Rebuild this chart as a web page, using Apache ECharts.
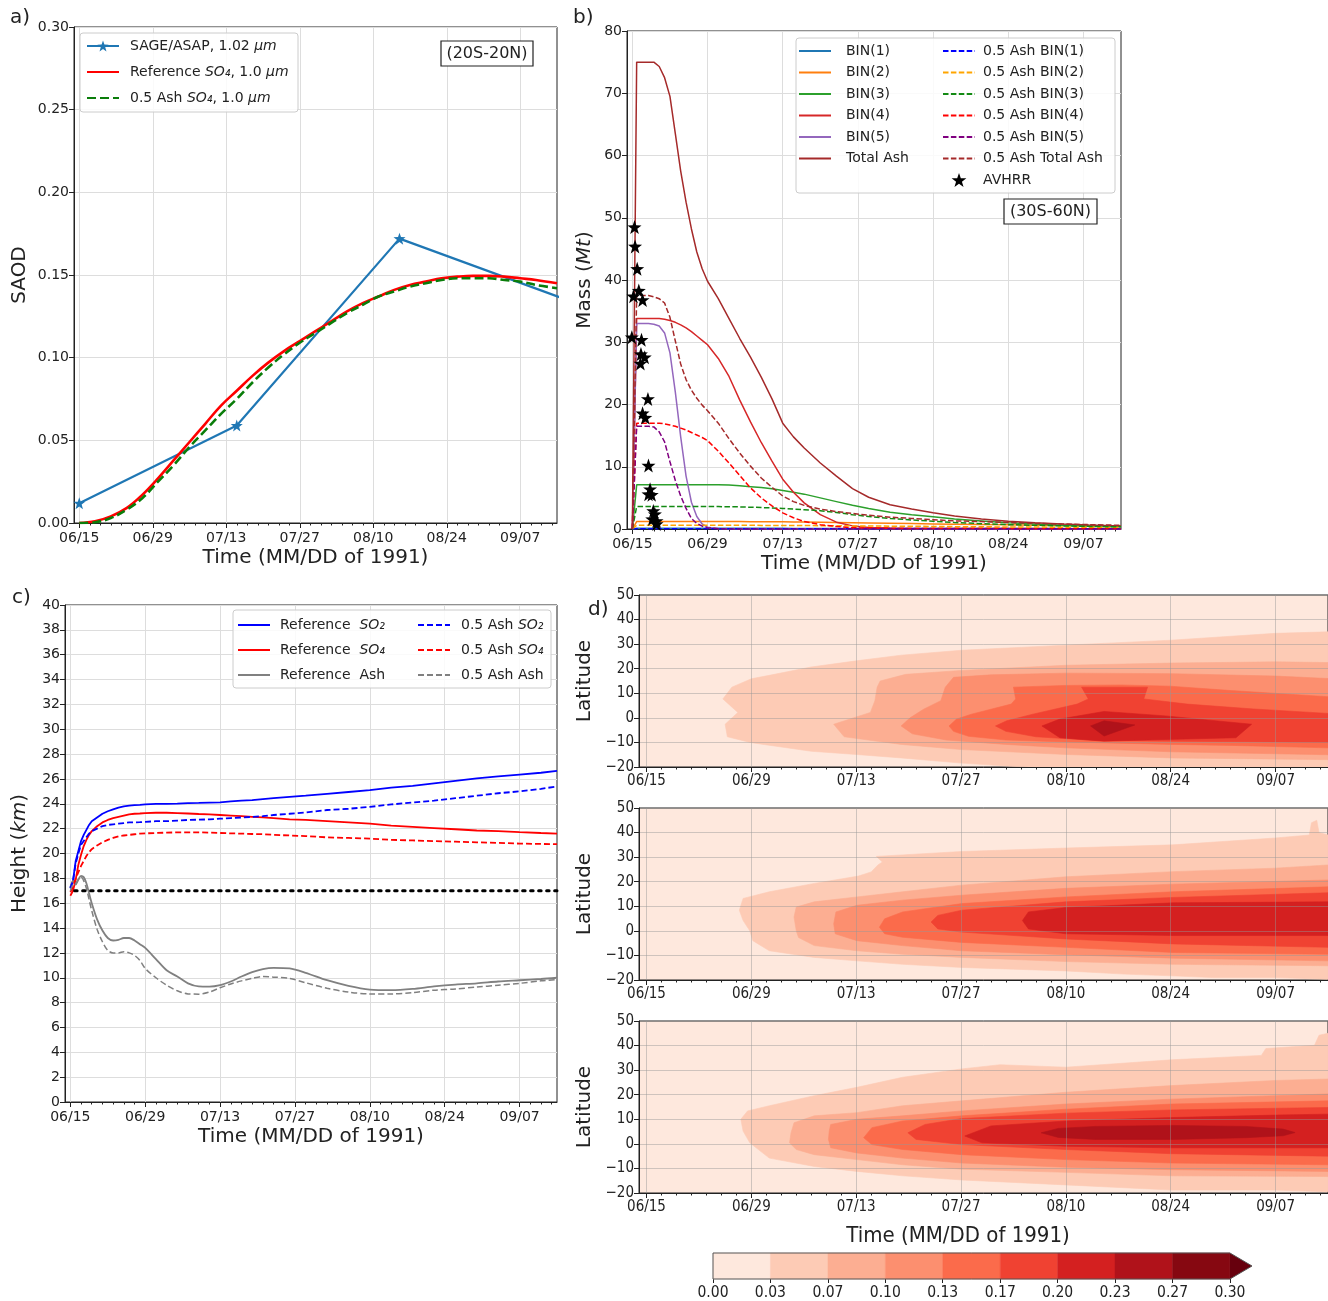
<!DOCTYPE html>
<html>
<head>
<meta charset="utf-8">
<script src="https://cdn.jsdelivr.net/npm/echarts@6/dist/echarts.min.js"></script>
<style>
  html, body { margin: 0; padding: 0; background: #fff; }
  #chart { width: 1328px; height: 1301px; }
</style>
</head>
<body>
<div id="chart"></div>
<script>
// ---------- time axis (days after 1991-06-15) ----------
const majorTickDays = [0, 14, 28, 42, 56, 70, 84];
const minorTickDays = [];
for (let d = 0; d <= 90; d += 2) minorTickDays.push(d);

// ---------- a) SAOD, 20S-20N ----------
const sageDays = [0, 30, 61, 92];
const sageSaod = [0.012, 0.059, 0.172, 0.136];
const saodDays = [0, 3, 6, 9, 12, 15, 18, 21, 24, 27, 30, 33, 36, 39, 42, 45, 48, 51, 54, 57, 60, 63, 66, 69, 72, 75, 78, 81, 84, 87, 91];
const refSo4Saod = [0.000, 0.001, 0.004, 0.009, 0.017, 0.027, 0.038, 0.049, 0.060, 0.071, 0.080, 0.089, 0.097, 0.104, 0.110, 0.116, 0.122, 0.128, 0.133, 0.137, 0.141, 0.144, 0.146, 0.148, 0.149, 0.1495, 0.1495, 0.149, 0.148, 0.147, 0.145];
const ashSo4Saod = [0.000, 0.0005, 0.003, 0.008, 0.015, 0.025, 0.035, 0.046, 0.056, 0.066, 0.075, 0.085, 0.094, 0.102, 0.109, 0.115, 0.121, 0.127, 0.132, 0.137, 0.140, 0.143, 0.145, 0.147, 0.148, 0.148, 0.148, 0.147, 0.146, 0.144, 0.142];

// ---------- b) ash mass, 30S-60N (Mt) ----------
const massDays = [0, 0.8, 2, 3, 4, 5, 6, 7, 8, 9, 10, 11, 12, 13, 14, 16, 18, 20, 22, 24, 26, 28, 30, 32, 35, 38, 41, 44, 48, 52, 56, 60, 65, 70, 75, 80, 85, 91];
const bin1Mass = [0, 0.12, 0.12, 0.12, 0.12, 0.12, 0.12, 0.12, 0.12, 0.12, 0.12, 0.12, 0.12, 0.12, 0.12, 0.12, 0.12, 0.11, 0.11, 0.11, 0.11, 0.11, 0.1, 0.1, 0.1, 0.1, 0.1, 0.09, 0.09, 0.09, 0.08, 0.08, 0.08, 0.07, 0.07, 0.07, 0.06, 0.06];
const bin2Mass = [0, 1.2, 1.2, 1.2, 1.2, 1.2, 1.2, 1.2, 1.2, 1.2, 1.2, 1.2, 1.2, 1.2, 1.2, 1.2, 1.2, 1.19, 1.18, 1.17, 1.16, 1.15, 1.13, 1.11, 1.08, 1.05, 1.01, 0.97, 0.92, 0.87, 0.82, 0.77, 0.72, 0.67, 0.62, 0.57, 0.52, 0.47];
const bin3Mass = [0, 7.1, 7.1, 7.1, 7.1, 7.1, 7.1, 7.1, 7.1, 7.1, 7.1, 7.1, 7.1, 7.1, 7.1, 7.1, 7.05, 6.95, 6.8, 6.65, 6.45, 6.2, 5.9, 5.6, 5.0, 4.4, 3.8, 3.3, 2.7, 2.3, 1.95, 1.6, 1.3, 1.0, 0.8, 0.6, 0.45, 0.35];
const bin4Mass = [0, 33.8, 33.8, 33.8, 33.8, 33.8, 33.7, 33.5, 33.2, 32.8, 32.3, 31.7, 31.0, 30.3, 29.6, 27.4, 24.5, 20.7, 17.2, 13.9, 10.9, 8.0, 5.9, 4.2, 2.3, 1.1, 0.5, 0.25, 0.15, 0.1, 0.1, 0.08, 0.08, 0.07, 0.07, 0.06, 0.06, 0.05];
const bin5Mass = [0, 33, 33, 33, 32.9, 32.6, 31.5, 28.3, 22.0, 14.8, 8.5, 4.3, 2.0, 0.8, 0.3, 0.05, 0, 0, 0, 0, 0, 0, 0, 0, 0, 0, 0, 0, 0, 0, 0, 0, 0, 0, 0, 0, 0, 0];
const totalAshMass = [0, 75, 75, 75, 75, 74.3, 72.5, 69.5, 63.5, 57.5, 52.5, 48.2, 44.5, 41.8, 39.8, 37.0, 33.8, 30.6, 27.6, 24.4, 20.9, 17.0, 14.8, 13.0, 10.6, 8.5, 6.5, 5.1, 3.9, 3.2, 2.6, 2.1, 1.6, 1.25, 1.0, 0.8, 0.65, 0.5];
const halfBin1Mass = [0, 0.06, 0.06, 0.06, 0.06, 0.06, 0.06, 0.06, 0.06, 0.06, 0.06, 0.06, 0.06, 0.06, 0.06, 0.06, 0.06, 0.06, 0.055, 0.055, 0.055, 0.055, 0.05, 0.05, 0.05, 0.05, 0.05, 0.045, 0.045, 0.045, 0.04, 0.04, 0.04, 0.035, 0.035, 0.035, 0.03, 0.03];
const halfBin2Mass = [0, 0.6, 0.6, 0.6, 0.6, 0.6, 0.6, 0.6, 0.6, 0.6, 0.6, 0.6, 0.6, 0.6, 0.6, 0.6, 0.6, 0.6, 0.59, 0.58, 0.58, 0.57, 0.56, 0.55, 0.54, 0.52, 0.5, 0.48, 0.46, 0.44, 0.41, 0.38, 0.35, 0.33, 0.31, 0.29, 0.27, 0.25];
const halfBin3Mass = [0, 3.6, 3.6, 3.6, 3.6, 3.6, 3.6, 3.6, 3.6, 3.6, 3.6, 3.6, 3.6, 3.6, 3.6, 3.6, 3.58, 3.55, 3.5, 3.45, 3.38, 3.3, 3.2, 3.1, 2.95, 2.65, 2.3, 2.0, 1.7, 1.45, 1.25, 1.05, 0.85, 0.7, 0.6, 0.5, 0.42, 0.35];
const halfBin4Mass = [0, 17, 17, 17, 17, 17, 16.9, 16.7, 16.5, 16.2, 15.9, 15.5, 15.1, 14.7, 14.2, 12.5, 10.6, 8.6, 6.6, 5.0, 3.7, 2.6, 1.8, 1.2, 0.7, 0.4, 0.2, 0.15, 0.1, 0.08, 0.08, 0.07, 0.07, 0.06, 0.06, 0.05, 0.05, 0.05];
const halfBin5Mass = [0, 16.5, 16.5, 16.5, 16.4, 15.6, 14.0, 10.8, 7.8, 5.3, 3.3, 1.7, 0.9, 0.45, 0.2, 0.05, 0, 0, 0, 0, 0, 0, 0, 0, 0, 0, 0, 0, 0, 0, 0, 0, 0, 0, 0, 0, 0, 0];
const halfTotalMass = [0, 37.5, 37.5, 37.5, 37.3, 37.0, 36.3, 34.0, 30.2, 26.5, 24.0, 22.3, 21.0, 19.9, 19.0, 17.0, 14.5, 12.2, 10.1, 8.2, 6.7, 5.3, 4.4, 3.8, 3.2, 2.8, 2.5, 2.2, 1.9, 1.7, 1.5, 1.3, 1.2, 1.05, 0.9, 0.8, 0.7, 0.6];
const avhrrDays = [0.4, 0.5, 0.9, 1.2, 0.2, 1.9, -0.1, 1.7, 1.6, 2.3, 1.5, 2.9, 1.9, 2.4, 3.0, 3.3, 3.0, 3.6, 3.9, 4.2, 3.7, 4.5, 4.5];
const avhrrMass = [48.5, 45.4, 41.8, 38.3, 37.4, 36.8, 30.8, 30.4, 28.1, 27.6, 26.6, 20.9, 18.6, 17.9, 10.2, 6.4, 5.6, 5.5, 2.9, 2.4, 1.6, 1.3, 0.8];

// ---------- c) mean height (km) ----------
const heightDays = [0, 0.5, 1, 1.5, 2, 2.5, 3, 3.5, 4, 5, 6, 7, 8, 9, 10, 11, 12, 13, 14, 16, 18, 20, 22, 24, 26, 28, 30, 32, 34, 36, 38, 41, 44, 48, 52, 56, 60, 64, 68, 72, 76, 80, 84, 88, 91];
const refSo2Km = [17.3, 17.8, 19.4, 20.2, 21.0, 21.5, 21.9, 22.3, 22.6, 22.9, 23.2, 23.4, 23.55, 23.7, 23.8, 23.85, 23.9, 23.92, 23.95, 24.0, 24.0, 24.02, 24.05, 24.07, 24.1, 24.12, 24.2, 24.25, 24.3, 24.38, 24.45, 24.55, 24.65, 24.8, 24.95, 25.1, 25.3, 25.45, 25.65, 25.85, 26.05, 26.2, 26.35, 26.5, 26.65];
const halfSo2Km = [17.2, 17.8, 19.2, 20.0, 20.7, 21.0, 21.3, 21.6, 21.8, 22.0, 22.2, 22.3, 22.35, 22.4, 22.45, 22.5, 22.5, 22.52, 22.55, 22.6, 22.6, 22.65, 22.7, 22.72, 22.75, 22.8, 22.85, 22.9, 22.95, 23.0, 23.1, 23.2, 23.3, 23.5, 23.6, 23.75, 23.95, 24.1, 24.25, 24.45, 24.65, 24.85, 25.0, 25.2, 25.4];
const refSo4Km = [16.6, 17.0, 17.9, 19.1, 19.9, 20.6, 21.1, 21.5, 21.8, 22.2, 22.5, 22.7, 22.85, 22.95, 23.05, 23.15, 23.2, 23.22, 23.25, 23.28, 23.28, 23.25, 23.22, 23.18, 23.15, 23.1, 23.05, 23.0, 22.95, 22.9, 22.85, 22.75, 22.7, 22.6, 22.5, 22.4, 22.25, 22.15, 22.05, 21.95, 21.85, 21.8, 21.72, 21.65, 21.6];
const halfSo4Km = [16.9, 17.3, 18.0, 18.5, 19.0, 19.4, 19.8, 20.1, 20.35, 20.65, 20.9, 21.1, 21.25, 21.38, 21.45, 21.5, 21.55, 21.6, 21.62, 21.65, 21.68, 21.7, 21.7, 21.7, 21.68, 21.65, 21.62, 21.6, 21.57, 21.55, 21.5, 21.45, 21.4, 21.3, 21.25, 21.2, 21.1, 21.05, 21.0, 20.95, 20.9, 20.85, 20.8, 20.77, 20.75];
const refAshKm = [17.2, 17.8, 17.5, 17.9, 18.2, 18.1, 17.6, 16.8, 16.0, 14.7, 13.8, 13.2, 13.0, 13.05, 13.2, 13.2, 13.0, 12.7, 12.4, 11.5, 10.6, 10.1, 9.55, 9.3, 9.28, 9.4, 9.7, 10.1, 10.45, 10.7, 10.8, 10.75, 10.4, 9.8, 9.35, 9.05, 9.0, 9.1, 9.3, 9.45, 9.55, 9.7, 9.8, 9.9, 10.0];
const halfAshKm = [17.0, 17.5, 17.6, 17.9, 18.1, 17.8, 17.2, 16.3, 15.4, 13.9, 12.9, 12.2, 12.0, 12.0, 12.1, 12.0, 11.8, 11.4, 10.75, 10.0, 9.4, 8.95, 8.7, 8.68, 8.85, 9.2, 9.5, 9.75, 9.95, 10.1, 10.05, 9.95, 9.6, 9.15, 8.85, 8.7, 8.7, 8.8, 9.0, 9.1, 9.25, 9.4, 9.55, 9.75, 9.85];
const tropopauseDays = [0.8, 91];
const tropopauseKm = [17, 17];

// ---------- d) zonal SAOD contours: [day, latitude] outlines per level ----------
const saodLevels = [0, 0.0333, 0.0667, 0.1, 0.1333, 0.1667, 0.2, 0.2333, 0.2667, 0.3];
const levelColors = ['#fee8dd', '#fdcbb5', '#fcae92', '#fc8f6f', '#fb6b4b', '#f04232', '#d42020', '#b0121a', '#860811', '#67000d'];

const contoursTop = [
  { bin: 1, pts: [[91,35],[84,34.4],[70,31.6],[56,29.6],[42,27.5],[34,25.5],[28,23.2],[22,20.7],[16.4,17.3],[14,15.9],[11.4,12.5],[10.2,7.7],[12.2,2.2],[10.5,-2.6],[10.8,-7.7],[14,-10.1],[22,-13.6],[28,-14.9],[34,-16.3],[42,-18.4],[48.7,-19.7],[51,-20],[91,-20]] },
  { bin: 2, pts: [[91,22.5],[84,22.8],[70,22.3],[56,21.4],[42,19.3],[34.6,17.7],[31.2,15],[30.8,12.5],[30.5,7],[29.9,2.2],[25,-2.6],[26.4,-7.7],[34,-10.8],[42,-12.9],[56,-14.9],[70,-16.3],[91,-17]] },
  { bin: 3, pts: [[91,16],[84,17],[70,18],[56,18.2],[46,17.5],[41,16.5],[39.9,12.5],[39.3,7],[37,3.5],[35.2,0],[34,-3.3],[35.5,-6.5],[40,-9],[48,-10.8],[56,-12.2],[70,-13.8],[91,-15]] },
  { bin: 4, pts: [[91,8.6],[78.1,11.1],[69.9,12.9],[63.4,13.4],[55.9,13.2],[49,12.5],[49.3,7.7],[48.7,5.6],[43.4,1.5],[41.4,-0.5],[40.4,-3.3],[41,-5.5],[43,-7.5],[48,-9],[56,-9.8],[70,-10.8],[78,-11.2],[91,-12.2]] },
  { bin: 5, pts: [[91,1.8],[81.1,3.6],[72.2,5.6],[66.4,7.7],[66.9,12.5],[58.1,12.5],[59,7.7],[57.5,5.6],[51.6,1.5],[48.1,-1.2],[46.6,-3.3],[48,-5.5],[52,-7.7],[60,-9.2],[70,-9.5],[80,-9.7],[91,-10]] },
  { bin: 6, pts: [[52.8,-3.3],[55.2,-0.5],[61.1,2.6],[69.3,0.8],[80.8,-2.6],[78.7,-8.1],[69.3,-8.8],[61.1,-9.5],[55.2,-8.1]] },
  { bin: 7, pts: [[59.3,-3.3],[61.1,-1.2],[65.2,-2.9],[61.1,-7.4]] }
];
const contoursMid = [
  { bin: 1, pts: [[91,39],[89.8,40],[89.5,45],[88.8,44],[88.5,39],[84,37.8],[70.3,35],[56,33.7],[42.1,32.3],[30.7,30.3],[31.5,28],[30.9,26.8],[30,24],[28.3,22.3],[22.4,19.3],[16.4,15.9],[12.9,13.2],[12.4,8.4],[12.9,4.2],[13.8,0],[14.2,-4],[16.4,-8.1],[22.4,-10.8],[28.1,-12.2],[34.2,-13.6],[42.1,-14.9],[49,-15.6],[56,-16.3],[63.8,-17.6],[70.1,-18.3],[75.6,-19],[84,-19],[91,-19.7]] },
  { bin: 2, pts: [[91,26.8],[83.9,25.5],[70.3,24.1],[56,22],[42.1,18.6],[34.2,15.9],[28.1,13.8],[22.4,11.8],[20,9.7],[19.7,5.6],[20,0],[20.3,-2.7],[22.4,-6],[28.1,-8.1],[34.2,-9.5],[42.1,-10.8],[56,-12.5],[70.3,-13.6],[91,-14.2]] },
  { bin: 3, pts: [[91,20.7],[70.3,19],[56,17.3],[42.1,14.5],[34.2,12.5],[28.1,10.4],[25.3,7.7],[25,2.9],[25.2,-1.2],[28.1,-4],[34.2,-6],[42.1,-8.1],[56,-9.7],[70.3,-11.1],[91,-12.2]] },
  { bin: 4, pts: [[91,17.9],[70.3,15.9],[56,13.8],[42.1,11.1],[34.2,7.7],[31.8,4.9],[31.1,1.5],[31.8,-1.2],[34.2,-2.6],[42.1,-4.7],[56,-6.7],[70.3,-8.8],[91,-9.5]] },
  { bin: 5, pts: [[91,15.5],[70.3,13.6],[56,11.8],[42.1,8.4],[38.9,6.3],[38,3.6],[38.9,0.8],[42.1,-0.5],[56,-3.3],[70.3,-5.3],[91,-6.7]] },
  { bin: 6, pts: [[91,11.8],[70.3,11.4],[56,9.5],[51,7.7],[50.2,4.2],[51,0.8],[56,-1.2],[70.3,-1.9],[91,-1.9]] }
];
const contoursBot = [
  { bin: 1, pts: [[91,45],[89.8,44.2],[89.2,40.1],[82.7,38.8],[82.1,36],[70.1,34.2],[56,31.2],[47.2,32.2],[42.1,30.5],[34.2,27.1],[28.1,23],[22.4,19.6],[16.4,15.5],[13.5,13.4],[12.6,10],[12.9,5.2],[13.8,0.4],[16.4,-5.8],[22.4,-9.2],[28.1,-11.2],[34.2,-13],[42.1,-14.7],[56,-16.7],[70.1,-18.8],[84,-18.8],[91,-19.5]] },
  { bin: 2, pts: [[91,26.4],[84,25.8],[70.1,23.7],[56,21],[42.1,17.5],[34.2,15.5],[28.1,12.7],[22.4,11.4],[19.7,8.6],[19.3,4.5],[19.1,0.4],[20,-2.3],[22.4,-4.4],[28.1,-6.4],[34.2,-8.5],[42.1,-10.3],[56,-11.6],[70.1,-13],[91,-13.3]] },
  { bin: 3, pts: [[91,20.3],[70.1,18.2],[56,16.2],[42.1,13.4],[34.2,11.4],[28.1,10],[24.6,7.9],[24.4,5.2],[24.3,1.8],[24.6,-1.6],[28.1,-3.7],[34.2,-5.8],[42.1,-7.8],[56,-9.5],[70.1,-10.5],[91,-11.2]] },
  { bin: 4, pts: [[91,17.5],[70.1,16.2],[56,14.1],[42.1,11.4],[34.2,9.3],[30.1,6.6],[29,2.5],[30.1,-0.3],[34.2,-2.3],[42.1,-4.4],[56,-6.4],[70.1,-7.8],[91,-8.5]] },
  { bin: 5, pts: [[91,14.8],[70.1,13.8],[56,12.5],[42.1,10.3],[37.2,7.9],[34.9,4.5],[36,1.8],[42.1,-0.3],[56,-2.3],[70.1,-4],[91,-5]] },
  { bin: 6, pts: [[91,12.1],[84,11.7],[70.1,10.7],[56,9.3],[46,7.3],[42.5,3.2],[44.8,0.4],[56,-1],[70.1,-1.6],[91,-1.6]] },
  { bin: 7, pts: [[52.7,4.5],[55,6.3],[60,7.1],[70.1,7.5],[80,7.1],[85,6],[86.6,4.6],[85,3.3],[80,2.5],[70.1,1.8],[60,1.8],[55,2.6]] }
];
const colorbarTip = 0.3128;

// ---------- helpers ----------
const FONT = '"DejaVu Sans", sans-serif';
const NARROW = '"DejaVu Sans Condensed", "Liberation Sans Narrow", "DejaVu Sans", sans-serif';
const INK = '#222';
const STAR = 'path://M0,-10 L2.35,-3.24 L9.51,-3.09 L3.8,1.24 L5.88,8.09 L0,4 L-5.88,8.09 L-3.8,1.24 L-9.51,-3.09 L-2.35,-3.24 Z';
const START = Date.UTC(1991, 5, 15);
const pad2 = n => String(n).padStart(2, '0');
function fmtDay(v) {
  const d = new Date(START + Math.round(v) * 86400000);
  return pad2(d.getUTCMonth() + 1) + '/' + pad2(d.getUTCDate());
}
const zip = (xs, ys) => xs.map((x, i) => [x, ys[i]]);
const fmtLat = v => (v < 0 ? '\u2212' + Math.abs(v) : String(v));

function timeAxes(gridIndex, o) {
  return [{
    type: 'value', gridIndex, min: -1, max: 91, z: o.z || 0,
    name: o.name || '', nameLocation: 'middle', nameGap: o.nameGap || 0,
    nameTextStyle: { fontFamily: FONT, fontSize: 20, color: INK },
    axisLine: { show: true, onZero: false, lineStyle: { color: INK, width: 1 } },
    axisTick: { show: true, customValues: majorTickDays, length: 5, lineStyle: { color: INK } },
    axisLabel: { customValues: majorTickDays, formatter: fmtDay, fontFamily: o.font, fontSize: o.size, color: INK, margin: o.margin || 8 },
    splitLine: { show: true, lineStyle: { color: o.gridColor || '#dddddd', width: 1 } }
  }, {
    type: 'value', gridIndex, min: -1, max: 91, position: 'bottom', z: o.z || 0,
    axisLine: { show: false, onZero: false }, axisLabel: { show: false }, splitLine: { show: false },
    axisTick: { show: true, customValues: minorTickDays, length: 2.5, lineStyle: { color: INK } }
  }];
}
function valueAxis(gridIndex, o) {
  return {
    type: 'value', gridIndex, min: o.min, max: o.max, interval: o.interval, z: o.z || 0,
    name: o.name || '', nameLocation: 'middle', nameGap: o.nameGap || 0,
    nameTextStyle: { fontFamily: FONT, fontSize: 20, color: INK, rich: { it: { fontFamily: FONT, fontSize: 20, fontStyle: 'italic', color: INK } } },
    axisLine: { show: true, onZero: false, lineStyle: { color: INK } },
    axisTick: { show: true, length: 5, lineStyle: { color: INK } },
    axisLabel: { formatter: o.fmt, fontFamily: o.font, fontSize: o.size, color: INK, margin: 5 },
    splitLine: { show: true, lineStyle: { color: o.gridColor || '#dddddd', width: 1 } }
  };
}

// legend label markup (italic units / chemical species)
const legendMarkup = {
  'SAGE/ASAP, 1.02 μm': '{n|SAGE/ASAP, 1.02 }{i|μm}',
  'Reference SO₄, 1.0 μm': '{n|Reference }{i|SO₄}{n|, 1.0 }{i|μm}',
  '0.5 Ash SO₄, 1.0 μm': '{n|0.5 Ash }{i|SO₄}{n|, 1.0 }{i|μm}',
  'Reference  SO₂': '{n|Reference  }{i|SO₂}',
  'Reference  SO₄': '{n|Reference  }{i|SO₄}',
  'Reference  Ash': '{n|Reference  Ash}',
  '0.5 Ash SO₂': '{n|0.5 Ash }{i|SO₂}',
  '0.5 Ash SO₄': '{n|0.5 Ash }{i|SO₄}',
  '0.5 Ash Ash': '{n|0.5 Ash Ash}'
};
// entries drawn with a marker keep it; plain lines show only the line sample
const markerEntries = ['SAGE/ASAP, 1.02 μm', 'AVHRR'];
function legend(o) {
  return {
    left: o.left, top: o.top, orient: 'vertical', padding: 0, z: 20,
    itemWidth: 32, itemHeight: 14, itemGap: o.gap, selectedMode: false,
    data: o.data.map(name => markerEntries.includes(name) ? { name } : { name, itemStyle: { opacity: 0 } }),
    formatter: name => legendMarkup[name] || ('{n|' + name + '}'),
    textStyle: {
      padding: [0, 0, 0, o.textPad], color: INK,
      rich: {
        n: { fontFamily: FONT, fontSize: 14, color: INK },
        i: { fontFamily: FONT, fontSize: 14, fontStyle: 'italic', color: INK }
      }
    }
  };
}
function line(name, xi, yi, xs, ys, color, width, dash, extra) {
  return Object.assign({
    name, type: 'line', xAxisIndex: xi, yAxisIndex: yi, data: zip(xs, ys),
    symbol: 'none', clip: true, z: 3,
    lineStyle: { color, width, type: dash || 'solid' },
    itemStyle: { color }
  }, extra || {});
}
function contourSeries(rings, xi, yi) {
  return {
    type: 'custom', xAxisIndex: xi, yAxisIndex: yi, clip: true, silent: true, z: 2,
    data: rings.map((r, i) => [r.pts[0][0], r.pts[0][1], i]),
    renderItem(params, api) {
      const ring = rings[params.dataIndex];
      return {
        type: 'polygon',
        shape: { points: ring.pts.map(p => api.coord(p)) },
        style: { fill: levelColors[ring.bin], stroke: levelColors[ring.bin], lineWidth: 0.6 }
      };
    }
  };
}

// ---------- layout ----------
const grids = [
  { left: 74, top: 27, width: 483, height: 496 },     // a
  { left: 627, top: 31, width: 494, height: 498 },    // b
  { left: 65, top: 605, width: 492, height: 497 },    // c
  { left: 639, top: 595, width: 689, height: 172 },   // d top
  { left: 639, top: 808, width: 689, height: 172 },   // d middle
  { left: 639, top: 1021, width: 689, height: 172 },  // d bottom
  { left: 713, top: 1253, width: 539, height: 26 }    // colour bar
].map((g, i) => Object.assign({
  show: true, borderColor: INK, borderWidth: 1,
  backgroundColor: (i >= 3 && i <= 5) ? levelColors[0] : 'transparent'
}, g));
grids[6].show = false;

const xAxes = [].concat(
  timeAxes(0, { font: FONT, size: 14, name: 'Time (MM/DD of 1991)', nameGap: 25 }),
  timeAxes(1, { font: FONT, size: 14, name: 'Time (MM/DD of 1991)', nameGap: 25 }),
  timeAxes(2, { font: FONT, size: 14, name: 'Time (MM/DD of 1991)', nameGap: 25 }),
  timeAxes(3, { font: NARROW, size: 15, z: 5, margin: 7, gridColor: 'rgba(150,150,150,0.45)' }),
  timeAxes(4, { font: NARROW, size: 15, z: 5, margin: 7, gridColor: 'rgba(150,150,150,0.45)' }),
  timeAxes(5, { font: NARROW, size: 15, z: 5, margin: 7, gridColor: 'rgba(150,150,150,0.45)' }),
  [{
    type: 'value', gridIndex: 6, min: 0, max: colorbarTip,
    axisLine: { show: false, onZero: false }, splitLine: { show: false },
    axisTick: { show: true, customValues: saodLevels, length: 4, lineStyle: { color: INK } },
    axisLabel: { customValues: saodLevels, formatter: v => v.toFixed(2), fontFamily: NARROW, fontSize: 15.5, color: INK, margin: 6 }
  }]
);
const yAxes = [
  valueAxis(0, { min: 0, max: 0.3, interval: 0.05, fmt: v => v.toFixed(2), font: FONT, size: 14, name: 'SAOD', nameGap: 44 }),
  valueAxis(1, { min: 0, max: 80, interval: 10, font: FONT, size: 14, name: 'Mass ({it|Mt})', nameGap: 32 }),
  valueAxis(2, { min: 0, max: 40, interval: 2, font: FONT, size: 14, name: 'Height ({it|km})', nameGap: 35 }),
  valueAxis(3, { min: -20, max: 50, interval: 10, fmt: fmtLat, font: NARROW, size: 15, name: 'Latitude', nameGap: 40, z: 5, gridColor: 'rgba(150,150,150,0.45)' }),
  valueAxis(4, { min: -20, max: 50, interval: 10, fmt: fmtLat, font: NARROW, size: 15, name: 'Latitude', nameGap: 40, z: 5, gridColor: 'rgba(150,150,150,0.45)' }),
  valueAxis(5, { min: -20, max: 50, interval: 10, fmt: fmtLat, font: NARROW, size: 15, name: 'Latitude', nameGap: 40, z: 5, gridColor: 'rgba(150,150,150,0.45)' }),
  { type: 'value', gridIndex: 6, min: 0, max: 1, show: false }
];

// ---------- series ----------
const DASH_A = [9, 4], DASH_B = [5.5, 2.4], DASH_C = [6, 3];
const series = [
  // a
  line('SAGE/ASAP, 1.02 μm', 0, 0, sageDays, sageSaod, '#1f77b4', 2.2, null, { symbol: STAR, symbolSize: 12, showSymbol: true }),
  line('Reference SO₄, 1.0 μm', 0, 0, saodDays, refSo4Saod, '#ff0000', 2.6, null, { smooth: 0.4 }),
  line('0.5 Ash SO₄, 1.0 μm', 0, 0, saodDays, ashSo4Saod, '#0a7d0a', 2.6, DASH_A, { smooth: 0.4 }),
  // b
  line('BIN(1)', 2, 1, massDays, bin1Mass, '#1f77b4', 1.5),
  line('BIN(2)', 2, 1, massDays, bin2Mass, '#ff7f0e', 1.5),
  line('BIN(3)', 2, 1, massDays, bin3Mass, '#2ca02c', 1.5),
  line('BIN(4)', 2, 1, massDays, bin4Mass, '#d62728', 1.5),
  line('BIN(5)', 2, 1, massDays, bin5Mass, '#9467bd', 1.5),
  line('Total Ash', 2, 1, massDays, totalAshMass, '#a52a2a', 1.5),
  line('0.5 Ash BIN(1)', 2, 1, massDays, halfBin1Mass, '#0000ff', 1.5, DASH_B),
  line('0.5 Ash BIN(2)', 2, 1, massDays, halfBin2Mass, '#ffa500', 1.5, DASH_B),
  line('0.5 Ash BIN(3)', 2, 1, massDays, halfBin3Mass, '#138a13', 1.5, DASH_B),
  line('0.5 Ash BIN(4)', 2, 1, massDays, halfBin4Mass, '#ff0000', 1.5, DASH_B),
  line('0.5 Ash BIN(5)', 2, 1, massDays, halfBin5Mass, '#800080', 1.5, DASH_B),
  line('0.5 Ash Total Ash', 2, 1, massDays, halfTotalMass, '#a52a2a', 1.5, DASH_B),
  {
    name: 'AVHRR', type: 'scatter', xAxisIndex: 2, yAxisIndex: 1, z: 4,
    data: zip(avhrrDays, avhrrMass), symbol: STAR, symbolSize: 14,
    itemStyle: { color: '#000', opacity: 1 }
  },
  // c
  line('Reference  SO₂', 4, 2, heightDays, refSo2Km, '#0000ff', 1.8),
  line('Reference  SO₄', 4, 2, heightDays, refSo4Km, '#ff0000', 1.8),
  line('Reference  Ash', 4, 2, heightDays, refAshKm, '#808080', 1.8, null, { smooth: 0.3 }),
  line('0.5 Ash SO₂', 4, 2, heightDays, halfSo2Km, '#0000ff', 1.8, DASH_C),
  line('0.5 Ash SO₄', 4, 2, heightDays, halfSo4Km, '#ff0000', 1.8, DASH_C),
  line('0.5 Ash Ash', 4, 2, heightDays, halfAshKm, '#808080', 1.5, DASH_C, { smooth: 0.3 }),
  line('tropopause', 4, 2, tropopauseDays, tropopauseKm, '#000000', 3, [2.5, 5.5], { lineStyle: { color: '#000', width: 3, type: [2.5, 5.5], cap: 'round' } }),
  // d
  contourSeries(contoursTop, 6, 3),
  contourSeries(contoursMid, 8, 4),
  contourSeries(contoursBot, 10, 5),
  // colour bar
  {
    type: 'custom', xAxisIndex: 12, yAxisIndex: 6, silent: true, z: 2,
    data: levelColors.map((c, i) => [i < 9 ? saodLevels[i] : saodLevels[9], i < 9 ? saodLevels[i + 1] : colorbarTip, i]),
    renderItem(params, api) {
      const lo = api.value(0), hi = api.value(1), k = api.value(2);
      const a = api.coord([lo, 1]), b = api.coord([hi, 0]);
      if (k < 9) {
        return { type: 'rect', shape: { x: a[0], y: a[1], width: b[0] - a[0], height: b[1] - a[1] },
          style: { fill: levelColors[k], stroke: levelColors[k], lineWidth: 0.5 } };
      }
      const mid = api.coord([hi, 0.5]);
      return { type: 'polygon', shape: { points: [[a[0], a[1]], mid, [a[0], b[1]]] }, style: { fill: levelColors[k] } };
    }
  },
  {
    type: 'custom', xAxisIndex: 12, yAxisIndex: 6, silent: true, z: 3,
    data: [[0, colorbarTip]],
    renderItem(params, api) {
      const x0 = api.coord([api.value(0), 1]), x1 = api.coord([saodLevels[9], 0]);
      const tip = api.coord([api.value(1), 0.5]);
      return { type: 'polygon', shape: { points: [[x0[0], x0[1]], [x1[0], x0[1]], tip, [x1[0], x1[1]], [x0[0], x1[1]]] },
        style: { fill: 'none', stroke: '#555', lineWidth: 1 } };
    }
  }
];

// ---------- annotations ----------
function boxedLabel(x, y, w, h, text) {
  return [
    { type: 'rect', z: 15, shape: { x, y, width: w, height: h }, style: { fill: '#fff', stroke: INK, lineWidth: 1.2 } },
    { type: 'text', z: 16, x: x + w / 2, y: y + h / 2, style: { text, font: '16px "DejaVu Sans"', fill: INK, textAlign: 'center', textVerticalAlign: 'middle' } }
  ];
}
function panelLetter(x, y, t) {
  return { type: 'text', z: 16, x, y, style: { text: t, font: '20px "DejaVu Sans"', fill: INK, textAlign: 'left', textVerticalAlign: 'middle' } };
}
function legendBox(x, y, w, h) {
  return { type: 'rect', z: 15, shape: { x, y, width: w, height: h, r: 3 }, style: { fill: 'rgba(255,255,255,0.85)', stroke: '#cccccc', lineWidth: 1 } };
}
const graphic = [].concat(
  panelLetter(10, 18, 'a)'), panelLetter(573, 18, 'b)'), panelLetter(12, 598, 'c)'), panelLetter(588, 610, 'd)'),
  legendBox(80, 33, 218, 79), legendBox(796, 38, 319, 155), legendBox(233, 610, 318, 78),
  boxedLabel(441, 41, 92, 25, '(20S-20N)'),
  boxedLabel(1004, 199, 93, 25, '(30S-60N)'),
  [{ type: 'text', z: 16, x: 958, y: 1236, style: { text: 'Time (MM/DD of 1991)', font: '22px ' + NARROW, fill: INK, textAlign: 'center', textVerticalAlign: 'middle' } }]
);

const chart = echarts.init(document.getElementById('chart'), null, { renderer: 'canvas' });
chart.setOption({
  animation: false,
  backgroundColor: '#fff',
  grid: grids,
  xAxis: xAxes,
  yAxis: yAxes,
  legend: [
    legend({ left: 86, top: 39, gap: 12, textPad: 6, data: ['SAGE/ASAP, 1.02 μm', 'Reference SO₄, 1.0 μm', '0.5 Ash SO₄, 1.0 μm'] }),
    legend({ left: 798, top: 44, gap: 7.5, textPad: 10, data: ['BIN(1)', 'BIN(2)', 'BIN(3)', 'BIN(4)', 'BIN(5)', 'Total Ash'] }),
    legend({ left: 942, top: 44, gap: 7.5, textPad: 3, data: ['0.5 Ash BIN(1)', '0.5 Ash BIN(2)', '0.5 Ash BIN(3)', '0.5 Ash BIN(4)', '0.5 Ash BIN(5)', '0.5 Ash Total Ash', 'AVHRR'] }),
    legend({ left: 237, top: 618, gap: 11, textPad: 5, data: ['Reference  SO₂', 'Reference  SO₄', 'Reference  Ash'] }),
    legend({ left: 417, top: 618, gap: 11, textPad: 6, data: ['0.5 Ash SO₂', '0.5 Ash SO₄', '0.5 Ash Ash'] })
  ],
  graphic,
  series
});
</script>
</body>
</html>
